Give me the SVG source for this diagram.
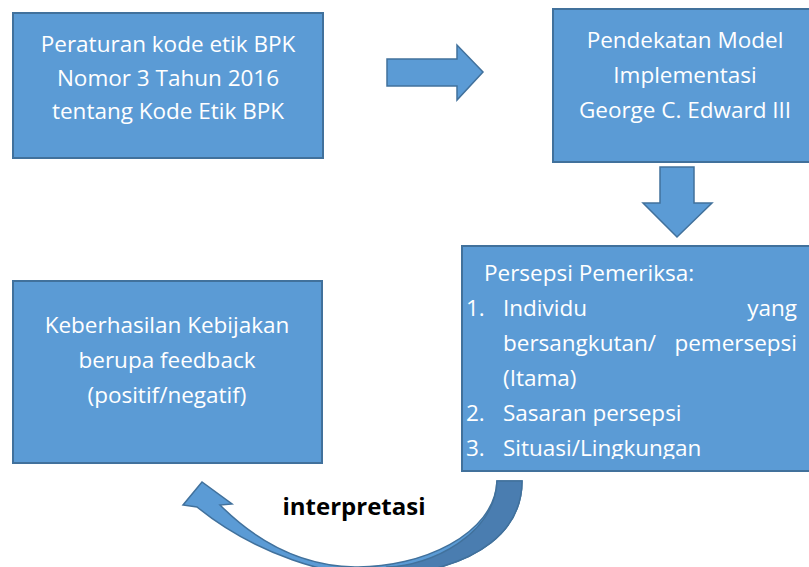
<svg xmlns="http://www.w3.org/2000/svg" width="809" height="567" viewBox="0 0 809 567">
<style>
.box{fill:#5b9bd5;stroke:#41719c;stroke-width:2}
.arr{fill:#5b9bd5;stroke:#41719c;stroke-width:1.5;stroke-linejoin:miter}
.t{font-family:"Open Sans","Liberation Sans",sans-serif;font-size:22.5px;fill:#ffffff}
.c{text-anchor:middle}
.lbl{font-family:"Open Sans","Liberation Sans",sans-serif;font-size:24px;font-weight:bold;fill:#000000;text-anchor:middle}
</style>
<defs>
<clipPath id="clip3"><rect x="462" y="246" width="360" height="213"/></clipPath>
</defs>
<rect width="809" height="567" fill="#ffffff"/>
<g id="node-peraturan">
<rect class="box" x="13" y="13" width="310" height="145"/>
<text class="t c" x="168" y="52">Peraturan kode etik BPK</text>
<text class="t c" x="168" y="86">Nomor 3 Tahun 2016</text>
<text class="t c" x="168" y="119">tentang Kode Etik BPK</text>
</g>
<g id="node-pendekatan">
<rect class="box" x="553" y="9" width="270" height="153"/>
<text class="t c" x="685" y="48">Pendekatan Model</text>
<text class="t c" x="685" y="83">Implementasi</text>
<text class="t c" x="685" y="118">George C. Edward III</text>
</g>
<g id="node-persepsi">
<rect class="box" x="462" y="246" width="360" height="225"/>
<g clip-path="url(#clip3)">
<text class="t" x="484" y="281">Persepsi Pemeriksa:</text>
<text class="t" x="466" y="316">1.</text>
<text class="t" x="503" y="316">Individu</text>
<text class="t" x="797" y="316" text-anchor="end">yang</text>
<text class="t" x="503" y="351">bersangkutan/</text>
<text class="t" x="797" y="351" text-anchor="end">pemersepsi</text>
<text class="t" x="503" y="386">(Itama)</text>
<text class="t" x="466" y="421">2.</text>
<text class="t" x="503" y="421">Sasaran persepsi</text>
<text class="t" x="466" y="456">3.</text>
<text class="t" x="503" y="456">Situasi/Lingkungan</text>
</g>
</g>
<g id="node-keberhasilan">
<rect class="box" x="13" y="281" width="309" height="182"/>
<text class="t c" x="167" y="333">Keberhasilan Kebijakan</text>
<text class="t c" x="167" y="368">berupa feedback</text>
<text class="t c" x="167" y="403">(positif/negatif)</text>
</g>
<g id="connectors">
<polygon class="arr" points="387,59 457,59 457,45 483,72 457,100 457,86 387,86"/>
<polygon class="arr" points="660,167 694,167 694,203 712,203 677,237 643,203 660,203"/>
<path class="arr" d="M522,481 C522,530 480,565 400,575 C330,582 250,550 197,507 L183,505 L202,482 L232,504 L220,505 C255,540 300,566 355,567 C420,568 495,535 497,481 Z"/>
<path d="M522,481 C522,530 480,565 400,575 L388,567 C430,566 495,535 497,481 Z" fill="#4a7db0" stroke="#41719c" stroke-width="1.5"/>
<text class="lbl" x="354" y="515">interpretasi</text>
</g>
</svg>
